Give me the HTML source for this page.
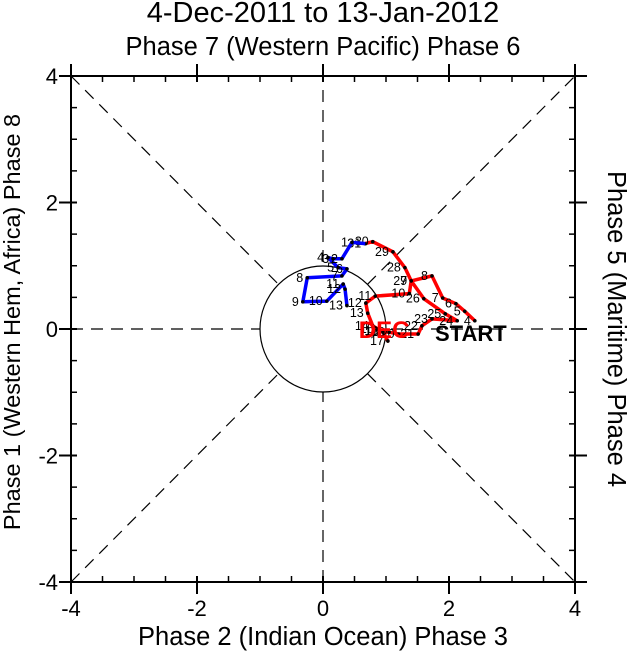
<!DOCTYPE html>
<html><head><meta charset="utf-8"><style>
body{margin:0;background:#fff}
svg{display:block;font-family:"Liberation Sans",sans-serif}
</style></head><body>
<svg id="chart" width="628" height="653" viewBox="0 0 628 653">
<text x="323" y="22" font-size="29" text-anchor="middle">4-Dec-2011 to 13-Jan-2012</text>
<text x="323" y="55" font-size="25.5" text-anchor="middle">Phase 7 (Western Pacific) Phase 6</text>
<text x="323" y="645" font-size="25.5" text-anchor="middle">Phase 2 (Indian Ocean) Phase 3</text>
<text transform="translate(20,322) rotate(-90)" font-size="23.5" text-anchor="middle">Phase 1 (Western Hem, Africa) Phase 8</text>
<text transform="translate(608,329) rotate(90)" font-size="25.5" text-anchor="middle">Phase 5 (Maritime) Phase 4</text>
<g id="axes"></g>
<g id="series"></g>
</svg>
<script>
const ticks=[-4,-2,0,2,4];
const minorTicks=[-3.5,-3,-2.5,-1.5,-1,-0.5,0.5,1,1.5,2.5,3,3.5];
const decDays=[4,5,6,7,8,9,10,11,12,13,14,15,16,17,18,19,20,21,22,23,24,25,26,27,28,29,30,31];
const decRMM1=[2.41,2.25,2.11,1.90,1.73,1.40,1.37,0.83,0.68,0.71,0.79,0.87,0.94,1.03,0.95,1.05,1.2,1.51,1.57,1.73,2.13,1.94,1.60,1.40,1.30,1.11,0.79,0.67];
const decRMM2=[0.13,0.28,0.40,0.49,0.84,0.76,0.56,0.52,0.41,0.25,0.05,0.0,-0.03,-0.19,-0.05,-0.05,-0.08,-0.08,0.05,0.16,0.13,0.24,0.48,0.76,0.97,1.22,1.38,1.35];
const janDays=[1,2,3,4,5,6,7,8,9,10,11,12,13];
const janRMM1=[0.46,0.30,0.16,0.08,0.24,0.38,0.30,-0.25,-0.32,0.06,0.32,0.35,0.38];
const janRMM2=[1.37,1.11,1.11,1.13,0.97,0.95,0.84,0.81,0.43,0.44,0.71,0.63,0.37];
const L=71,R=575,T=76,B=582;
const sx=v=>L+(v+4)*(R-L)/8, sy=v=>B-(v+4)*(B-T)/8;
const NS="http://www.w3.org/2000/svg";
function mk(tag,attrs,parent){const e=document.createElementNS(NS,tag);for(const k in attrs)e.setAttribute(k,attrs[k]);parent.appendChild(e);return e;}
const ax=document.getElementById('axes'),sr=document.getElementById('series');
[[-4,-4,4,4],[-4,4,4,-4],[-4,0,4,0],[0,-4,0,4]].forEach(d=>{
 const l=mk('line',{x1:sx(d[0]),y1:sy(d[1]),x2:sx(d[2]),y2:sy(d[3]),stroke:'#000','stroke-width':1.2,'stroke-dasharray':'12,8'},ax);
 
 
});
const c=mk('circle',{cx:sx(0),cy:sy(0),r:(R-L)/8,fill:'#fff',stroke:'#000','stroke-width':1.2},ax);


const fr=mk('rect',{x:L,y:T,width:R-L,height:B-T,fill:'none',stroke:'#000','stroke-width':2},ax);


ticks.forEach(t=>{
 mk('line',{x1:sx(t),y1:B-6,x2:sx(t),y2:B+12,stroke:'#000','stroke-width':2},ax);
 mk('line',{x1:sx(t),y1:T+6,x2:sx(t),y2:T-12,stroke:'#000','stroke-width':2},ax);
 mk('line',{x1:L-12,y1:sy(t),x2:L+6,y2:sy(t),stroke:'#000','stroke-width':2},ax);
 mk('line',{x1:R+12,y1:sy(t),x2:R-6,y2:sy(t),stroke:'#000','stroke-width':2},ax);
 const xl=mk('text',{x:sx(t),y:B+34,'font-size':22,'text-anchor':'middle'},ax);xl.textContent=t;
 
 
 const yl=mk('text',{x:L-13,y:sy(t)+8,'font-size':22,'text-anchor':'end'},ax);yl.textContent=t;
 
 
});
minorTicks.forEach(t=>{
 mk('line',{x1:sx(t),y1:B,x2:sx(t),y2:B-6,stroke:'#000','stroke-width':1.5},ax);
 mk('line',{x1:sx(t),y1:T,x2:sx(t),y2:T+6,stroke:'#000','stroke-width':1.5},ax);
 mk('line',{x1:L,y1:sy(t),x2:L+6,y2:sy(t),stroke:'#000','stroke-width':1.5},ax);
 mk('line',{x1:R,y1:sy(t),x2:R-6,y2:sy(t),stroke:'#000','stroke-width':1.5},ax);
});
function drawSeries(days,xs,ys,color,name,joinFrom){
 let pts=xs.map((v,i)=>sx(v)+','+sy(ys[i]));
 if(joinFrom)pts.unshift(sx(joinFrom[0])+','+sy(joinFrom[1]));
 const p=mk('polyline',{points:pts.join(' '),fill:'none',stroke:color,'stroke-width':3.5,'stroke-linejoin':'round'},sr);
 
 
 xs.forEach((v,i)=>{
  const d=mk('circle',{cx:sx(v),cy:sy(ys[i]),r:1.8,fill:'#000'},sr);
  
  
  const t=mk('text',{x:sx(v)-4,y:sy(ys[i])+4,'font-size':12.5,'text-anchor':'end'},sr);t.textContent=days[i];
  
  
 });
}
drawSeries(decDays,decRMM1,decRMM2,'#f00','december-track');
drawSeries(janDays,janRMM1,janRMM2,'#00f','january-track',[decRMM1[decRMM1.length-1],decRMM2[decRMM2.length-1]]);
const st=mk('text',{x:sx(decRMM1[0])-4,y:sy(decRMM2[0])+20,'font-size':22,'font-weight':'bold','text-anchor':'middle'},sr);st.textContent='START';


const dl=mk('text',{x:sx(0.97),y:sy(-0.14),'font-size':24,'font-weight':'bold',fill:'#f00','text-anchor':'middle'},sr);dl.textContent='DEC';


</script>
</body></html>
